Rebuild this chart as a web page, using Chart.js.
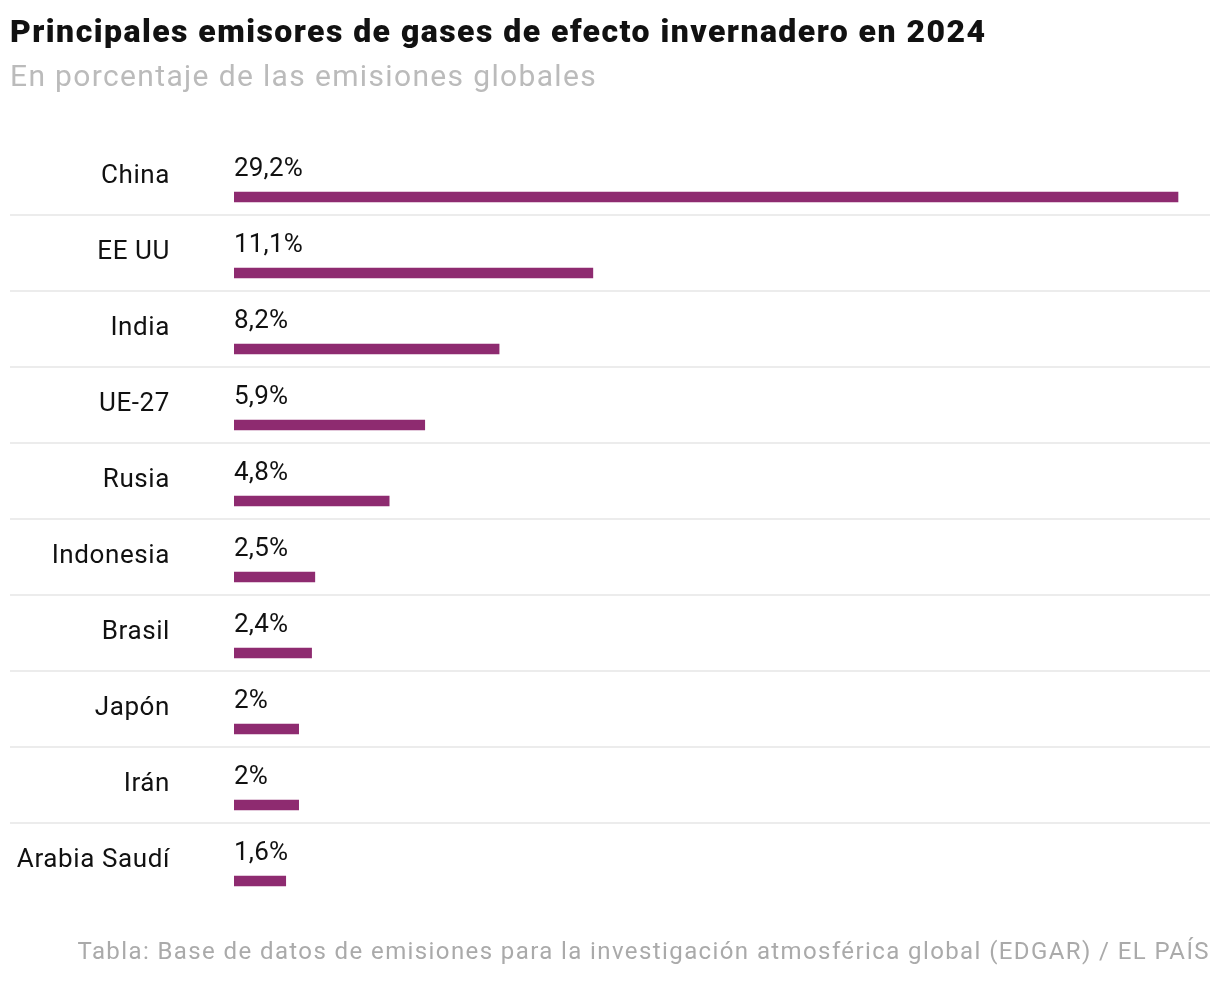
<!DOCTYPE html>
<html lang="es">
<head>
<meta charset="UTF-8" />
<title>Principales emisores de gases de efecto invernadero en 2024</title>
<script src="https://cdn.jsdelivr.net/npm/chart.js"></script>
<style>
    body {
        margin: 0;
        background: #fff;
        font-family: Roboto, "Liberation Sans", sans-serif;
        width: 1220px;
        height: 982px;
        position: relative;
        overflow: hidden;
    }
    h1 {
        position: absolute;
        left: 10px;
        top: 12px;
        margin: 0;
        font-size: 32px;
        font-weight: 900;
        color: #111;
        letter-spacing: 1.45px;
        white-space: nowrap;
    }
    .sub {
        position: absolute;
        left: 10px;
        top: 58px;
        font-size: 30px;
        color: #bbb;
        letter-spacing: 1.35px;
        white-space: nowrap;
    }
    .foot {
        position: absolute;
        right: 10px;
        top: 937px;
        font-size: 24px;
        color: #aaa;
        letter-spacing: 1.4px;
        white-space: nowrap;
    }
    #wrap {
        position: absolute;
        left: 0;
        top: 0;
        width: 1220px;
        height: 982px;
    }
</style>
</head>
<body>
<div id="wrap"><canvas id="chart"></canvas></div>
<h1>Principales emisores de gases de efecto invernadero en 2024</h1>
<div class="sub">En porcentaje de las emisiones globales</div>
<div class="foot">Tabla: Base de datos de emisiones para la investigación atmosférica global (EDGAR) / EL PAÍS</div>

<script>
    const countries = ['China', 'EE UU', 'India', 'UE-27', 'Rusia', 'Indonesia', 'Brasil', 'Japón', 'Irán', 'Arabia Saudí'];
    const shares = [29.2, 11.1, 8.2, 5.9, 4.8, 2.5, 2.4, 2, 2, 1.6];

    const fmt = (v) => v.toString().replace('.', ',') + '%';

    // labels, value text and row separators, placed from the scales
    const rowPlugin = {
        id: 'rows',
        afterDatasetsDraw(chart) {
            const c = chart.ctx;
            const y = chart.scales.y;
            const x = chart.scales.x;
            c.save();
            c.font = '26px Roboto, "Liberation Sans", sans-serif';
            c.textBaseline = 'middle';
            countries.forEach((name, i) => {
                const py = y.getPixelForValue(i);
                c.fillStyle = '#111';
                c.textAlign = 'right';
                c.letterSpacing = '0.6px';
                c.fillText(name, 170, py - 21);
                c.textAlign = 'left';
                c.letterSpacing = '0.2px';
                c.fillText(fmt(shares[i]), x.getPixelForValue(0), py - 28);
                if (i < countries.length - 1) {
                    c.fillStyle = '#ececec';
                    c.fillRect(10, py + 17, 1200, 2);
                }
            });
            c.restore();
        },
    };

    new Chart(document.getElementById('chart'), {
        type: 'bar',
        data: {
            labels: countries,
            datasets: [{
                data: shares,
                backgroundColor: '#8e2b70',
                maxBarThickness: 10,
                barPercentage: 1,
                categoryPercentage: 1,
            }],
        },
        options: {
            indexAxis: 'y',
            responsive: true,
            maintainAspectRatio: false,
            animation: false,
            layout: { padding: { left: 234, right: 10, top: 159, bottom: 63 } },
            plugins: { legend: { display: false }, tooltip: { enabled: false } },
            scales: {
                x: { display: false, min: 0, max: 30.19 },
                y: { display: false },
            },
        },
        plugins: [rowPlugin],
    });
</script>
</body>
</html>
